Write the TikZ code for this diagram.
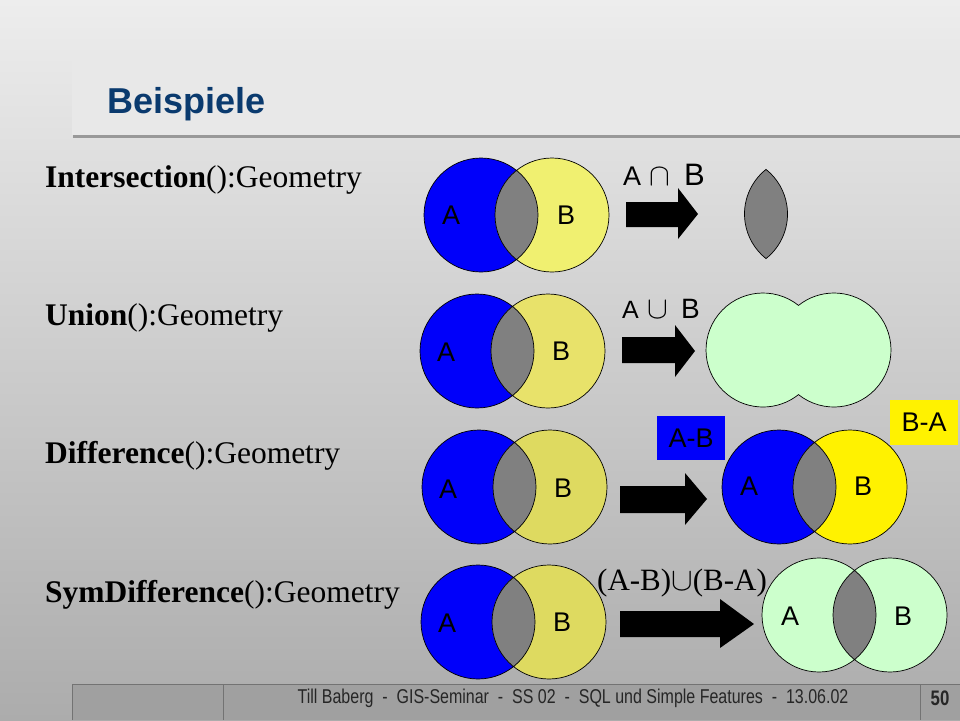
\documentclass[tikz,border=0pt]{standalone}
\usepackage{fontspec}
\setmainfont{Liberation Serif}
\newfontfamily\sans{Liberation Sans}
\newfontfamily\foot[FakeStretch=0.8]{Liberation Sans}
\definecolor{bgtop}{RGB}{237,237,237}
\definecolor{bgbot}{RGB}{172,172,172}
\definecolor{titlebg}{RGB}{232,232,232}
\definecolor{titleblue}{RGB}{10,58,110}
\definecolor{setblue}{RGB}{0,0,250}
\definecolor{yelA}{RGB}{240,240,112}
\definecolor{yelB}{RGB}{232,226,106}
\definecolor{yelC}{RGB}{222,218,96}
\definecolor{lens}{RGB}{128,128,128}
\definecolor{pale}{RGB}{204,255,204}
\definecolor{footgray}{RGB}{160,160,160}
\begin{document}
\begin{tikzpicture}[x=1pt,y=-1pt,
    venn/.style={draw=black,line width=0.7pt},
    setlbl/.style={inner sep=0,font=\sans\fontsize{27}{30}\selectfont},
    oplbl/.style={anchor=base west,inner sep=0},
    method/.style={anchor=base west,inner sep=0,font=\fontsize{31.5}{34}\selectfont},
    fatarrow/.style={fill=black}]
    \useasboundingbox (0,0) rectangle (960,720);
    \shade[top color=bgtop,bottom color=bgbot] (0,0) rectangle (960,720);
    % title bar
    \fill[black!40] (73,133) rectangle (960,138);
    \fill[titlebg] (72,54) rectangle (960,135);
    \node[anchor=base west,inner sep=0,text=titleblue,font=\sans\bfseries\fontsize{36}{40}\selectfont] (title) at (107,113) {Beispiele};
    % method names
    \node[method] (inter) at (45,187) {\textbf{Intersection}():Geometry};
    \node[method] (union) at (45,325) {\textbf{Union}():Geometry};
    \node[method] (diff) at (45,463) {\textbf{Difference}():Geometry};
    \node[method] (symdiff) at (45,602) {\textbf{SymDifference}():Geometry};
    % input sets
    \fill[setblue] (481,215) circle (57);
    \fill[yelA] (552,215) circle (57);
    \begin{scope}
        \clip (481,215) circle (57);
        \fill[lens] (552,215) circle (57);
    \end{scope}
    \draw[venn] (481,215) circle (57) (552,215) circle (57);
    \node[setlbl] (a1) at (451,215) {A};
    \node[setlbl] (b1) at (566,215) {B};
    \fill[setblue] (477,351) circle (57);
    \fill[yelB] (548,351) circle (57);
    \begin{scope}
        \clip (477,351) circle (57);
        \fill[lens] (548,351) circle (57);
    \end{scope}
    \draw[venn] (477,351) circle (57) (548,351) circle (57);
    \node[setlbl] (a2) at (446,352) {A};
    \node[setlbl] (b2) at (561,351) {B};
    \fill[setblue] (479,487) circle (57);
    \fill[yelC] (550,487) circle (57);
    \begin{scope}
        \clip (479,487) circle (57);
        \fill[lens] (550,487) circle (57);
    \end{scope}
    \draw[venn] (479,487) circle (57) (550,487) circle (57);
    \node[setlbl] (a3) at (448,489) {A};
    \node[setlbl] (b3) at (563,488) {B};
    \fill[setblue] (478,622) circle (57);
    \fill[yelC] (549,622) circle (57);
    \begin{scope}
        \clip (478,622) circle (57);
        \fill[lens] (549,622) circle (57);
    \end{scope}
    \draw[venn] (478,622) circle (57) (549,622) circle (57);
    \node[setlbl] (a4) at (447,623) {A};
    \node[setlbl] (b4) at (562,622) {B};
    % arrows
    \fill[fatarrow] (626,202) -- (678,202) -- (678,188) -- (698,214) -- (678,239) -- (678,227) -- (626,227) -- cycle;
    \fill[fatarrow] (622,337) -- (675,337) -- (675,325) -- (695,351) -- (675,377) -- (675,363) -- (622,363) -- cycle;
    \fill[fatarrow] (620,486) -- (685,486) -- (685,473) -- (707,499) -- (685,525) -- (685,513) -- (620,513) -- cycle;
    \fill[fatarrow] (620,611) -- (720,611) -- (720,599) -- (754,624) -- (720,648) -- (720,637) -- (620,637) -- cycle;
    % operators
    \node[oplbl,font=\sans\fontsize{27}{30}\selectfont] (opa1) at (623,185) {A};
    \node[oplbl,font=\fontsize{22}{22}\selectfont] (cap) at (649,185) {\scalebox{1.5}{$\cap$}};
    \node[oplbl,font=\sans\fontsize{31}{34}\selectfont] (opb1) at (684,185) {B};
    \node[oplbl,font=\sans\fontsize{25}{28}\selectfont] (opa2) at (622,318) {A};
    \node[oplbl,font=\fontsize{22}{22}\selectfont] (cup) at (647,318) {\scalebox{1.5}{$\cup$}};
    \node[oplbl,font=\sans\fontsize{28}{30}\selectfont] (opb2) at (681,318) {B};
    \node[oplbl,font=\fontsize{31}{34}\selectfont] (opsym) at (597,590) {(A-B)\scalebox{1.3}{$\cup$}(B-A)};
    % results
    \filldraw[fill=lens,venn] (766,169.4) arc[start angle=231.5,end angle=128.5,radius=57]
        arc[start angle=51.5,end angle=-51.5,radius=57] -- cycle;
    \filldraw[fill=pale,venn] (798.5,305.4) arc[start angle=-51.5,end angle=-308.5,radius=57]
        arc[start angle=128.5,end angle=-128.5,radius=57] -- cycle;
    \fill[setblue] (779,487) circle (57);
    \fill[yellow] (850,487) circle (57);
    \begin{scope}
        \clip (779,487) circle (57);
        \fill[lens] (850,487) circle (57);
    \end{scope}
    \draw[venn] (779,487) circle (57) (850,487) circle (57);
    \node[setlbl] (a5) at (749,486) {A};
    \node[setlbl] (b5) at (863,486) {B};
    \node[fill=setblue,minimum width=68,minimum height=44,font=\sans\fontsize{27}{29}\selectfont] (amb) at (691,438) {A-B};
    \node[fill=yellow,minimum width=68,minimum height=45,font=\sans\fontsize{27}{29}\selectfont] (bma) at (924,422.5) {B-A};
    \fill[pale] (819,615) circle (57);
    \fill[pale] (890,615) circle (57);
    \begin{scope}
        \clip (819,615) circle (57);
        \fill[lens] (890,615) circle (57);
    \end{scope}
    \draw[venn] (819,615) circle (57) (890,615) circle (57);
    \node[setlbl] (a6) at (790,616) {A};
    \node[setlbl] (b6) at (903,616) {B};
    % footer
    \fill[footgray] (72,684) rectangle (960,720);
    \draw[black!55,line width=1pt] (72,720) -- (72,684) -- (960,684) (223,684) -- (223,720) (920,684) -- (920,720);
    \node[inner sep=0,font=\foot\fontsize{20}{22}\selectfont,text=black!85] (credits) at (573,698) {Till Baberg~~-~~GIS-Seminar~~-~~SS~02~~-~~SQL und Simple Features~~-~~13.06.02};
    \node[inner sep=0,font=\foot\bfseries\fontsize{21}{22}\selectfont,text=black!85] (page) at (940,698) {50};
\end{tikzpicture}
\end{document}
